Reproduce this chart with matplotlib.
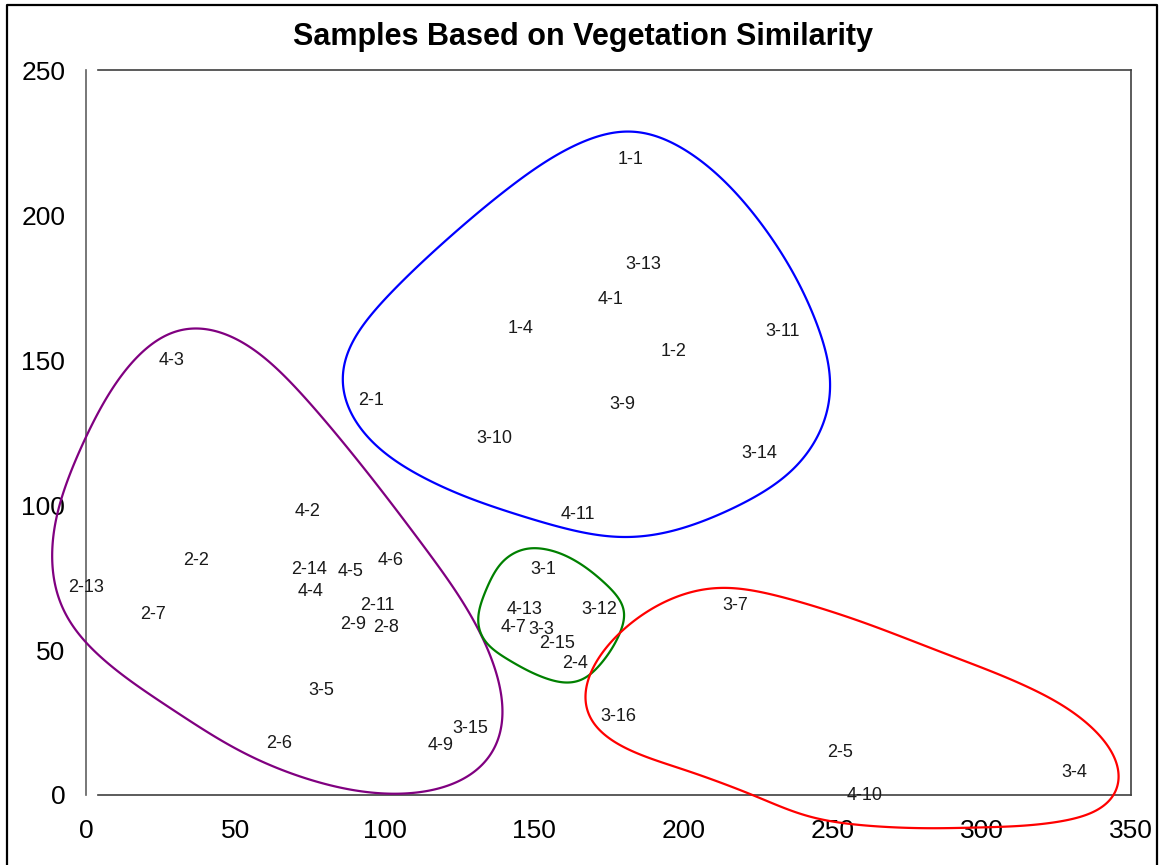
import numpy as np
import matplotlib
matplotlib.use("Agg")
import matplotlib.pyplot as plt
from matplotlib.lines import Line2D
from matplotlib.patches import Polygon

plt.rcParams['font.family'] = ['Liberation Sans', 'DejaVu Sans']
plt.rcParams['path.simplify'] = False

# ---------------- data ----------------
title = "Samples Based on Vegetation Similarity"

blue_labels = ["1-1", "3-13", "4-1", "1-4", "1-2", "3-11", "2-1", "3-9", "3-10", "3-14", "4-11"]
blue_x = [182.4, 186.7, 175.7, 145.5, 196.8, 233.3, 95.5, 179.7, 136.8, 225.6, 164.6]
blue_y = [219.0, 182.8, 170.7, 161.0, 153.1, 160.0, 136.2, 134.5, 122.8, 117.9, 96.6]

purple_labels = ["4-3", "4-2", "2-2", "2-13", "2-14", "4-5", "4-6", "4-4", "2-7", "2-11",
                 "2-9", "2-8", "3-5", "2-6", "4-9", "3-15"]
purple_x = [28.5, 74.1, 36.9, 0.0, 74.8, 88.5, 101.9, 75.1, 22.5, 97.6,
            89.5, 100.6, 78.8, 64.7, 118.7, 128.7]
purple_y = [150.0, 97.6, 80.7, 71.7, 77.9, 76.9, 80.7, 70.0, 62.1, 65.2,
            58.9, 57.9, 36.2, 17.9, 16.9, 22.8]

green_labels = ["3-1", "4-13", "3-12", "4-7", "3-3", "2-15", "2-4"]
green_x = [153.2, 146.8, 172.0, 143.1, 152.5, 157.9, 163.9]
green_y = [77.6, 64.1, 64.1, 57.9, 57.2, 52.1, 45.5]

red_labels = ["3-7", "3-16", "2-5", "3-4", "4-10"]
red_x = [217.6, 178.3, 252.4, 330.9, 260.8]
red_y = [65.2, 26.9, 14.8, 7.9, 0.0]

# hand-drawn cluster outlines (data units)
blue_outline_x = [182.4, 208.2, 224.9, 243.7, 250.1, 246.1, 238.3, 215.9, 182.4, 148.8,
                  115.3, 92.9, 84.5, 88.5, 100.9, 118.7, 141.1, 163.3]
blue_outline_y = [230.3, 216.6, 198.3, 163.8, 139.7, 125.9, 113.1, 99.3, 88.3, 95.9,
                  108.6, 124.8, 142.1, 155.9, 170.7, 189.3, 208.6, 223.4]

purple_outline_x = [34.9, 51.6, 71.8, 81.8, 96.2, 113.0, 126.4, 135.4, 139.5, 139.8,
                    137.1, 128.7, 115.3, 99.6, 74.1, 51.6, 29.2, 11.4, 0.3, -8.7,
                    -11.4, -10.4, -7.0, 0.0, 14.8, 24.8]
purple_outline_y = [162.8, 156.9, 137.9, 126.6, 108.6, 85.2, 66.2, 46.6, 32.8, 22.4,
                    13.8, 5.9, 1.7, 0.7, 5.9, 14.8, 30.3, 42.4, 52.4, 62.8,
                    80.0, 94.8, 105.2, 121.4, 147.6, 158.6]

green_outline_x = [147.8, 154.5, 173.3, 180.7, 178.0, 172.3, 166.6, 162.3, 153.2, 142.1,
                   133.1, 131.1, 134.4, 139.8]
green_outline_y = [85.2, 84.5, 73.1, 63.8, 54.5, 45.5, 39.7, 38.6, 40.7, 46.6,
                   53.4, 59.7, 70.7, 81.0]

red_outline_x = [210.1, 235.7, 261.3, 287.0, 312.4, 329.2, 340.6, 346.5, 346.5, 340.6,
                 325.4, 299.7, 280.6, 261.3, 242.0, 222.9, 197.3, 178.0, 167.9, 166.6,
                 169.2, 178.0, 190.9]
red_outline_y = [71.8, 67.2, 59.2, 48.9, 38.5, 29.3, 19.0, 9.8, 1.7, -5.2,
                 -8.6, -10.9, -11.5, -10.3, -8.0, 0.6, 10.3, 17.8, 25.9, 31.6,
                 43.1, 54.6, 64.9]

x_ticks = [0, 50, 100, 150, 200, 250, 300, 350]
y_ticks = [0, 50, 100, 150, 200, 250]


def closed_curve(px, py, half_j, k=16, n=800):
    """Smooth closed outline through traced points: penalised periodic (Fourier)
    least squares; harmonic `half_j` is damped to half strength."""
    P = np.column_stack([px, py]).astype(float)
    S = P * np.array([2.983, 2.9])  # equalise axis scaling
    d = np.sqrt(((np.roll(S, -1, axis=0) - S) ** 2).sum(axis=1))
    t = np.concatenate([[0], np.cumsum(d)[:-1]]) / d.sum()

    def basis(tt):
        cols = [np.ones_like(tt)]
        for j in range(1, k + 1):
            cols += [np.cos(2 * np.pi * j * tt), np.sin(2 * np.pi * j * tt)]
        return np.column_stack(cols)

    A = basis(t)
    m = len(P)
    s = 1.0 / half_j ** 4
    pen = [0.0] + [s * j ** 4 for j in range(1, k + 1) for _ in range(2)]
    M = A.T @ A + (m / 2.0) * np.diag(pen)
    cx = np.linalg.solve(M, A.T @ P[:, 0])
    cy = np.linalg.solve(M, A.T @ P[:, 1])
    tt = np.linspace(0, 1, n, endpoint=False)
    Bm = basis(tt)
    return Bm @ cx, Bm @ cy


W, H = 1159, 865
fig = plt.figure(figsize=(W / 100, H / 100), dpi=100)
fig.patch.set_facecolor('white')

L, R, T, B = 86, 1131, 70, 795
ax = fig.add_axes([L / W, 1 - B / H, (R - L) / W, (B - T) / H])
ax.set_xlim(0, 350)
ax.set_ylim(0, 250)
ax.set_facecolor('white')

for s in ['top', 'bottom']:
    ax.spines[s].set_visible(False)
ax.spines['left'].set_color('#606060')
ax.spines['left'].set_linewidth(1.2)
ax.spines['right'].set_color('#404040')
ax.spines['right'].set_linewidth(1.2)
off = 12 / (R - L)
ax.add_line(Line2D([off, 1], [1, 1], transform=ax.transAxes, color='#404040', lw=1.2, clip_on=False))
ax.add_line(Line2D([off, 1], [0, 0], transform=ax.transAxes, color='#404040', lw=1.2, clip_on=False))

ax.set_xticks(x_ticks)
ax.set_yticks(y_ticks)
ax.set_xticklabels([str(v) for v in x_ticks])
ax.set_yticklabels([str(v) for v in y_ticks])
ax.tick_params(axis='y', length=3, direction='in', color='white', width=1, pad=15, labelsize=19)
ax.tick_params(axis='x', length=0, pad=17, labelsize=19)
ax.set_xticks([25, 75, 125, 175, 225, 275, 325], minor=True)
ax.tick_params(axis='x', which='minor', length=3, direction='inout', color='white', width=1.2)

# cluster outlines
for ox, oy, col, hj in [(blue_outline_x, blue_outline_y, '#0000FF', 6),
                        (purple_outline_x, purple_outline_y, '#800080', 6),
                        (green_outline_x, green_outline_y, '#008000', 5),
                        (red_outline_x, red_outline_y, '#FF0000', 7)]:
    sx, sy = closed_curve(ox, oy, hj)
    ax.add_patch(Polygon(np.column_stack([sx, sy]), closed=True, fill=False,
                         edgecolor=col, lw=1.6, joinstyle='round', clip_on=False, zorder=3))

# sample labels
for labs, xs, ys in [(blue_labels, blue_x, blue_y), (purple_labels, purple_x, purple_y),
                     (green_labels, green_x, green_y), (red_labels, red_x, red_y)]:
    for lab, xv, yv in zip(labs, xs, ys):
        ax.text(xv, yv, lab, ha='center', va='center', fontsize=13, color='#1a1a1a',
                zorder=4, clip_on=False)

fig.text(583 / W, 1 - 37 / H, title, ha='center', va='center', fontsize=22,
         fontweight='bold', color='black')

# outer chart border (left, top, right)
fig.add_artist(Line2D([7 / W, 7 / W, 1157 / W, 1157 / W], [0, 1 - 5 / H, 1 - 5 / H, 0],
                      transform=fig.transFigure, color='black', lw=1.6))

fig.savefig('out.png', dpi=100)
